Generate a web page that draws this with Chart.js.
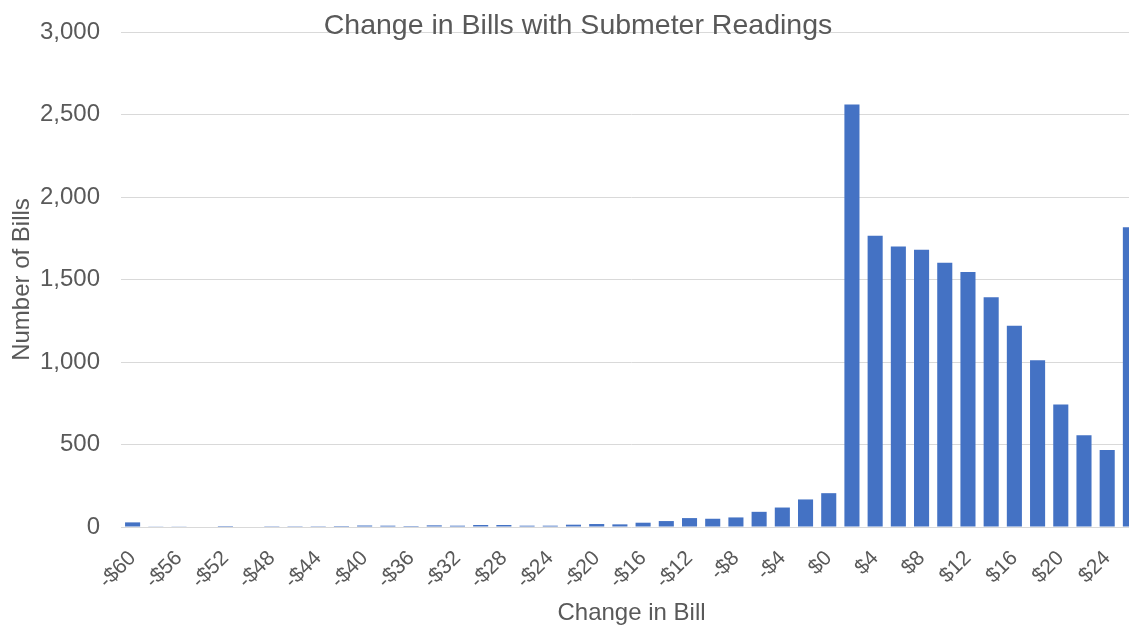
<!DOCTYPE html>
<html>
<head>
<meta charset="utf-8">
<title>Change in Bills with Submeter Readings</title>
<script src="https://cdn.jsdelivr.net/npm/chart.js@4/dist/chart.umd.min.js"></script>
<style>
  html, body { margin: 0; padding: 0; background: #ffffff; overflow: hidden; }
  #wrap { width: 1156px; height: 628px; }
</style>
</head>
<body>
<div id="wrap"><canvas id="chart" width="1156" height="628"></canvas></div>
<script>
// Bill change buckets, in dollars
const changeInBill = [-60, -58, -56, -54, -52, -50, -48, -46, -44, -42, -40, -38, -36, -34, -32,
  -30, -28, -26, -24, -22, -20, -18, -16, -14, -12, -10, -8, -6, -4, -2, 0,
  2, 4, 6, 8, 10, 12, 14, 16, 18, 20, 22, 24, 26];

// Number of bills falling in each bucket
const numberOfBills = [28, 2, 2, 3, 6, 3, 5, 5, 5, 6, 9, 8, 6, 10, 8,
  12, 12, 8, 8, 14, 18, 16, 26, 36, 54, 50, 58, 92, 118, 167, 205,
  2560, 1765, 1700, 1680, 1602, 1545, 1392, 1220, 1010, 743, 556, 467, 1816];

const yTicks = [0, 500, 1000, 1500, 2000, 2500, 3000];

const chartTitle = 'Change in Bills with Submeter Readings';
const xTitle = 'Change in Bill';
const yTitle = 'Number of Bills';

const textColor = '#595959';
const fontFamily = '"Liberation Sans", Arial, sans-serif';

function money(v) {
  return v < 0 ? '-$' + Math.abs(v) : '$' + v;
}

// Title sits over the top gridline, so draw it on its own
const overlayTitle = {
  id: 'overlayTitle',
  afterDraw(chart) {
    const ctx = chart.ctx;
    ctx.save();
    ctx.font = '28.5px ' + fontFamily;
    ctx.fillStyle = textColor;
    ctx.textAlign = 'center';
    ctx.textBaseline = 'alphabetic';
    ctx.fillText(chartTitle, chart.width / 2, 34);
    ctx.restore();
  }
};

new Chart(document.getElementById('chart'), {
  type: 'bar',
  data: {
    labels: changeInBill,
    datasets: [{
      data: numberOfBills,
      backgroundColor: '#4472C4',
      borderWidth: 0,
      categoryPercentage: 1,
      barPercentage: 0.65
    }]
  },
  options: {
    responsive: false,
    animation: false,
    devicePixelRatio: 1,
    layout: { padding: { top: 32, right: 14, left: 0, bottom: 0 } },
    plugins: {
      legend: { display: false },
      tooltip: { enabled: false },
      title: { display: false }
    },
    scales: {
      x: {
        grid: { display: false },
        border: { display: false },
        ticks: {
          autoSkip: false,
          minRotation: 45,
          maxRotation: 45,
          padding: 11,
          color: textColor,
          font: { family: fontFamily, size: 21 },
          callback: function (value, index) {
            return index % 2 === 0 ? money(changeInBill[index]) : null;
          }
        },
        title: {
          display: true,
          text: xTitle,
          color: textColor,
          font: { family: fontFamily, size: 24 },
          padding: { top: 0, bottom: 0 }
        },
        afterFit(scale) { scale.height = 101; }
      },
      y: {
        min: 0,
        max: 3000,
        afterBuildTicks(scale) { scale.ticks = yTicks.map(v => ({ value: v })); },
        grid: { color: '#d9d9d9', lineWidth: 1, drawTicks: true, tickLength: 18, tickColor: 'rgba(0,0,0,0)' },
        border: { display: false },
        ticks: {
          padding: 3,
          color: textColor,
          font: { family: fontFamily, size: 24 },
          callback: v => v.toLocaleString('en-US')
        },
        title: {
          display: true,
          text: yTitle,
          color: textColor,
          font: { family: fontFamily, size: 24 },
          padding: { top: 8, bottom: 0 }
        },
        afterFit(scale) { scale.width = 121; }
      }
    }
  },
  plugins: [overlayTitle]
});
</script>
</body>
</html>
